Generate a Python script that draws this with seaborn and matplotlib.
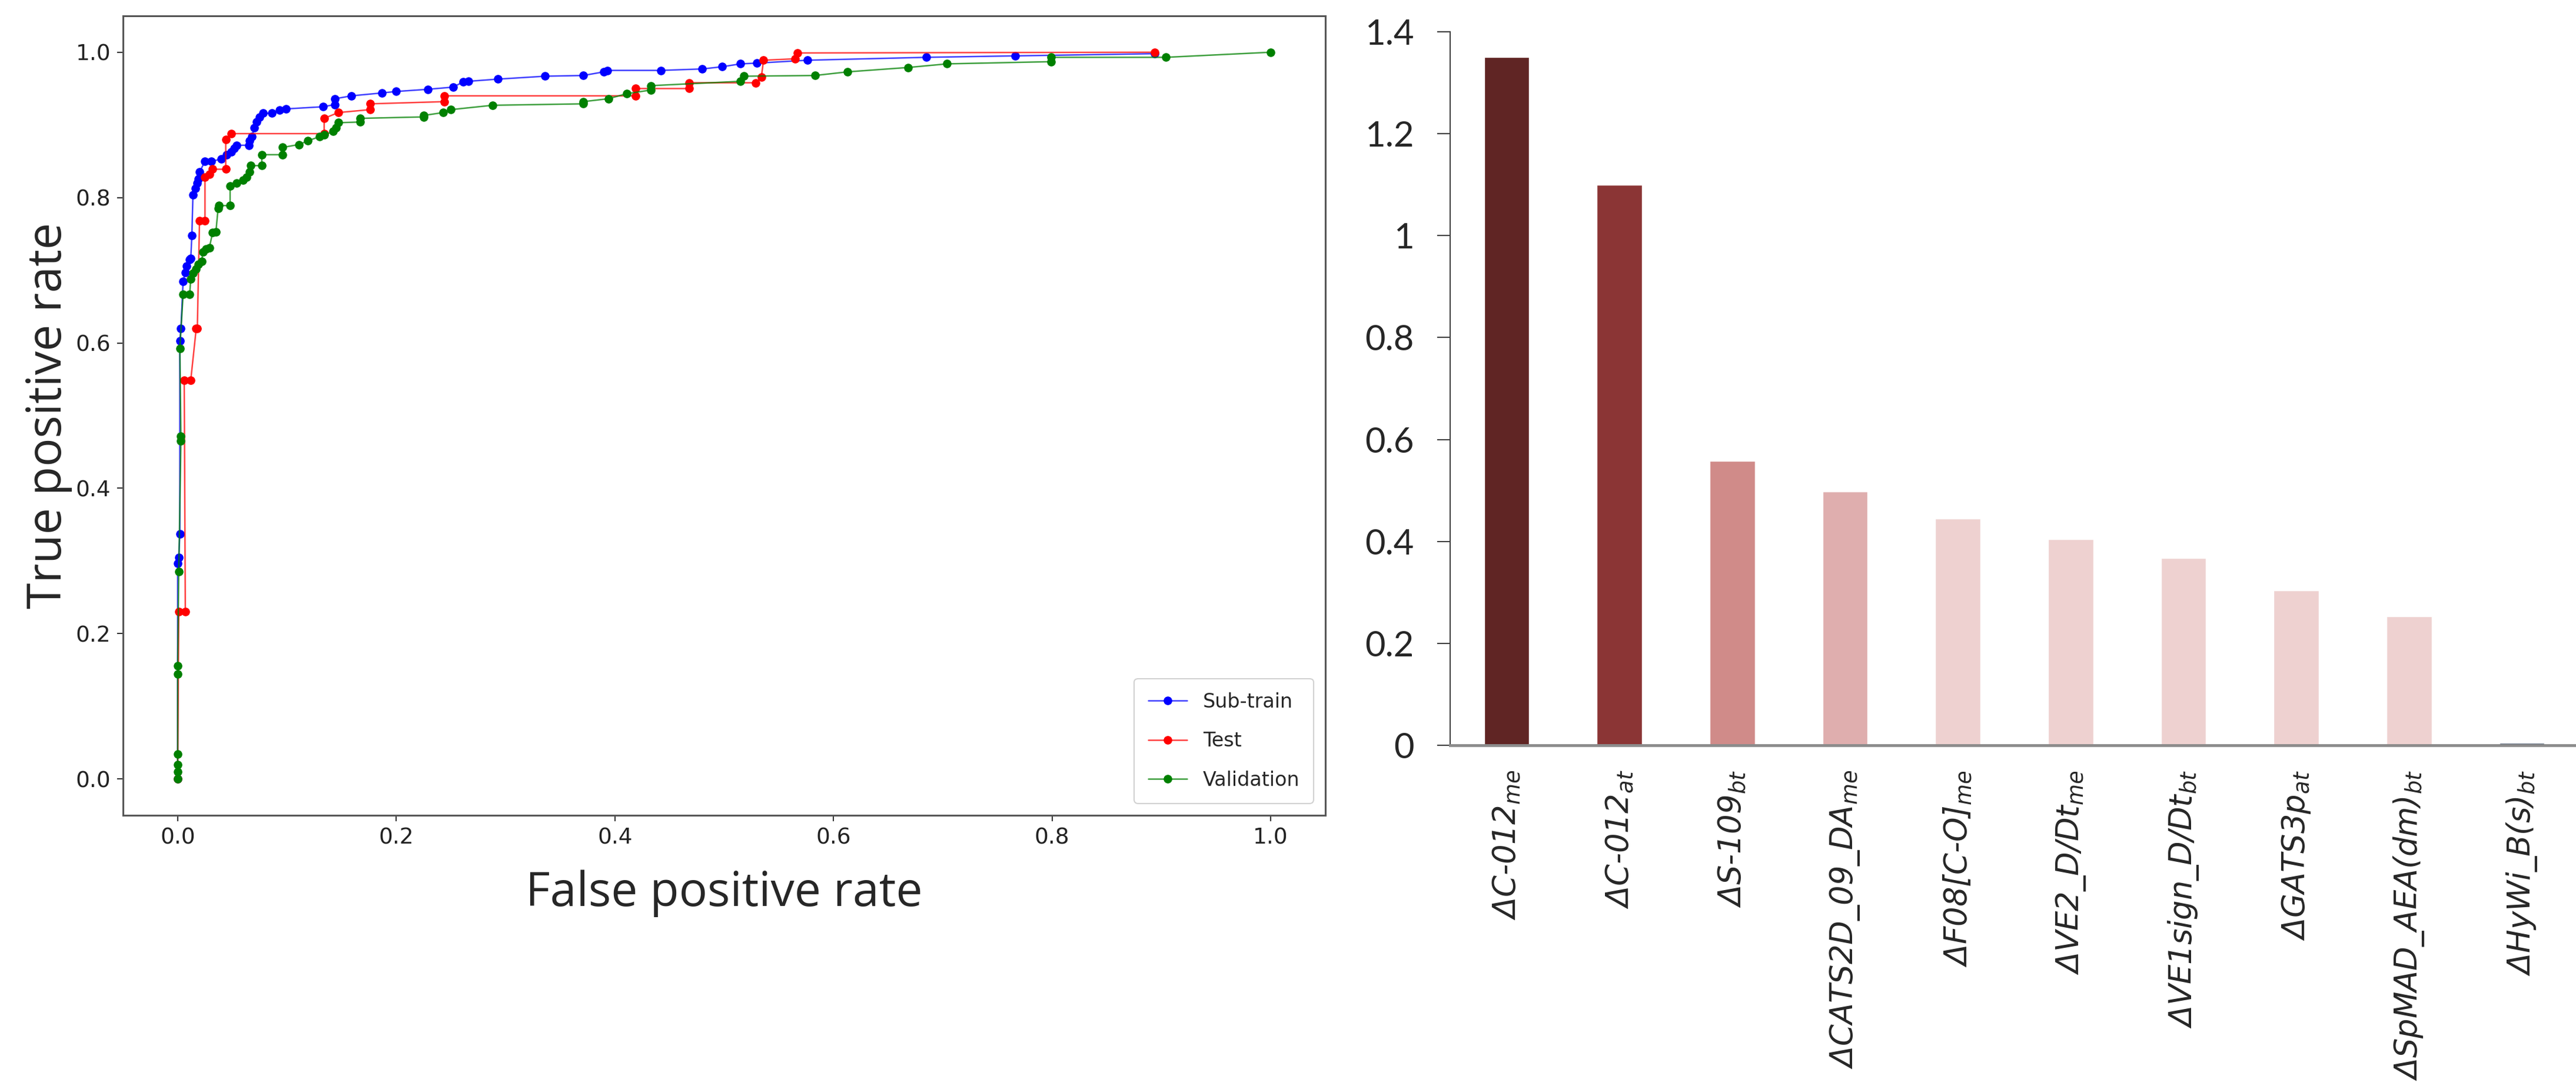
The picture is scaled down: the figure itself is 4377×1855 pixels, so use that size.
import numpy as np
import pandas as pd
import matplotlib
matplotlib.use("Agg")
import matplotlib.pyplot as plt
from matplotlib.colors import to_rgb
import seaborn as sns

# ---------------- ROC data ----------------
sub_fpr = [0.000, 0.000, 0.001, 0.002, 0.002, 0.003, 0.005, 0.007, 0.008, 0.011, 0.012,
           0.013, 0.014, 0.016, 0.018, 0.019, 0.020, 0.025, 0.031, 0.040, 0.045, 0.049,
           0.052, 0.054, 0.065, 0.066, 0.068, 0.070, 0.072, 0.075, 0.078, 0.086, 0.093,
           0.099, 0.133, 0.144, 0.144, 0.159, 0.187, 0.200, 0.229, 0.252, 0.261, 0.266,
           0.293, 0.336, 0.371, 0.390, 0.393, 0.442, 0.480, 0.498, 0.515, 0.530, 0.576,
           0.685, 0.766, 0.894]
sub_tpr = [0.000, 0.297, 0.305, 0.337, 0.603, 0.620, 0.685, 0.697, 0.706, 0.715, 0.716,
           0.748, 0.804, 0.813, 0.820, 0.826, 0.835, 0.850, 0.850, 0.853, 0.859, 0.863,
           0.868, 0.872, 0.872, 0.878, 0.884, 0.896, 0.904, 0.911, 0.916, 0.916, 0.920,
           0.922, 0.925, 0.928, 0.936, 0.940, 0.944, 0.946, 0.949, 0.952, 0.959, 0.960,
           0.963, 0.967, 0.968, 0.973, 0.975, 0.975, 0.977, 0.980, 0.984, 0.985, 0.989,
           0.993, 0.995, 0.998]

test_fpr = [0.000, 0.001, 0.007, 0.006, 0.012, 0.017, 0.018, 0.020, 0.025, 0.025, 0.029,
            0.032, 0.044, 0.044, 0.049, 0.134, 0.134, 0.147, 0.176, 0.176, 0.244, 0.244,
            0.419, 0.419, 0.468, 0.468, 0.529, 0.534, 0.536, 0.565, 0.567, 0.894]
test_tpr = [0.000, 0.230, 0.230, 0.549, 0.549, 0.620, 0.620, 0.768, 0.768, 0.828, 0.832,
            0.839, 0.839, 0.880, 0.888, 0.888, 0.909, 0.917, 0.921, 0.929, 0.932, 0.940,
            0.940, 0.950, 0.950, 0.958, 0.958, 0.966, 0.989, 0.991, 0.999, 1.000]

val_fpr = [0.000, 0.000, 0.000, 0.000, 0.000, 0.000, 0.001, 0.003, 0.003, 0.002, 0.005,
           0.011, 0.012, 0.014, 0.017, 0.019, 0.022, 0.023, 0.026, 0.029, 0.032, 0.035,
           0.037, 0.038, 0.048, 0.048, 0.054, 0.060, 0.063, 0.066, 0.067, 0.077, 0.077,
           0.096, 0.096, 0.111, 0.119, 0.130, 0.134, 0.142, 0.145, 0.147, 0.167, 0.167,
           0.225, 0.225, 0.243, 0.250, 0.288, 0.371, 0.371, 0.394, 0.411, 0.433, 0.433,
           0.515, 0.518, 0.583, 0.613, 0.668, 0.704, 0.799, 0.799, 0.904, 1.000]
val_tpr = [0.000, 0.010, 0.020, 0.034, 0.144, 0.156, 0.285, 0.465, 0.472, 0.592, 0.667,
           0.667, 0.688, 0.696, 0.702, 0.708, 0.712, 0.725, 0.729, 0.731, 0.752, 0.753,
           0.785, 0.789, 0.789, 0.816, 0.820, 0.824, 0.828, 0.835, 0.844, 0.844, 0.859,
           0.859, 0.869, 0.873, 0.878, 0.884, 0.886, 0.891, 0.896, 0.903, 0.904, 0.909,
           0.911, 0.913, 0.917, 0.921, 0.927, 0.929, 0.932, 0.936, 0.943, 0.948, 0.954,
           0.960, 0.967, 0.968, 0.973, 0.979, 0.984, 0.987, 0.993, 0.993, 1.000]

series_names = ["Sub-train", "Test", "Validation"]
series_colors = ["#0000ff", "#ff0000", "#008000"]
roc_ticks = [0.0, 0.2, 0.4, 0.6, 0.8, 1.0]

# ---------------- Descriptor importance data ----------------
descriptors = ["C-012_me", "C-012_at", "S-109_bt", "CATS2D_09_DA_me", "F08[C-O]_me",
               "VE2_D/Dt_me", "VE1sign_D/Dt_bt", "GATS3p_at", "SpMAD_AEA(dm)_bt",
               "HyWi_B(s)_bt"]
descriptor_labels = ["ΔC-012$_{me}$", "ΔC-012$_{at}$", "ΔS-109$_{bt}$",
                     "ΔCATS2D_09_DA$_{me}$", "ΔF08[C-O]$_{me}$", "ΔVE2_D/Dt$_{me}$",
                     "ΔVE1sign_D/Dt$_{bt}$", "ΔGATS3p$_{at}$", "ΔSpMAD_AEA(dm)$_{bt}$",
                     "ΔHyWi_B(s)$_{bt}$"]
importance = [1.35, 1.10, 0.558, 0.498, 0.445, 0.404, 0.367, 0.304, 0.253, 0.005]
bar_colors = ["#602524", "#8b3535", "#d08b89", "#dfaeae", "#eed1d0", "#eed1d0",
              "#eed1d0", "#eed1d0", "#eed1d0", "#44546a"]
imp_ticks = [0, 0.2, 0.4, 0.6, 0.8, 1.0, 1.2, 1.4]
imp_tick_labels = ["0", "0.2", "0.4", "0.6", "0.8", "1", "1.2", "1.4"]

# ---------------- Figure ----------------
sns.set_theme(style="white")
plt.rcParams["font.family"] = ["DejaVu Sans"]
plt.rcParams["mathtext.fontset"] = "dejavusans"

W, H = 4377, 1855
fig = plt.figure(figsize=(W / 100, H / 100), dpi=100)
fig.patch.set_facecolor("white")

ax1 = fig.add_axes([209 / W, 1 - 1385 / H, (2252 - 209) / W, (1385 - 27) / H])
ax2 = fig.add_axes([2464 / W, 1 - 1266 / H, (W - 2464) / W, (1266 - 54) / H])

# ROC curves
frames = []
for name, fx, ty in zip(series_names, [sub_fpr, test_fpr, val_fpr], [sub_tpr, test_tpr, val_tpr]):
    frames.append(pd.DataFrame({"fpr": fx, "tpr": ty, "set": name}))
roc = pd.concat(frames, ignore_index=True)

sns.lineplot(data=roc, x="fpr", y="tpr", hue="set", hue_order=series_names,
             palette=series_colors, sort=False, estimator=None, marker="o",
             markersize=10.5, markeredgewidth=0, linewidth=1.8, legend=False, ax=ax1)
for line, c in zip(ax1.lines, series_colors):
    r, g, b = to_rgb(c)
    line.set_color((r, g, b, 0.75))
    line.set_markerfacecolor(c)
    line.set_markeredgecolor(c)

ax1.set_xlim(-0.05, 1.05)
ax1.set_ylim(-0.05, 1.05)
ax1.set_xticks(roc_ticks)
ax1.set_yticks(roc_ticks)
ax1.set_xticklabels([f"{t:.1f}" for t in roc_ticks])
ax1.set_yticklabels([f"{t:.1f}" for t in roc_ticks])
ax1.tick_params(axis="both", which="major", labelsize=27, length=7, width=1.5,
                color="#333333", labelcolor="#222222", direction="out", pad=8,
                bottom=True, left=True)
for sp in ax1.spines.values():
    sp.set_color("#555555")
    sp.set_linewidth(2.2)
ax1.set_xlabel("False positive rate", fontsize=58, family="Open Sans", labelpad=26)
ax1.set_ylabel("True positive rate", fontsize=58, family="Open Sans", labelpad=4)
leg = ax1.legend(handles=ax1.lines[:3], labels=series_names, loc="lower right",
                 fontsize=24, frameon=True, fancybox=True, framealpha=0.9,
                 edgecolor="#cccccc", borderaxespad=0.6, labelspacing=1.0,
                 handlelength=2.0, handletextpad=0.8, borderpad=0.7)
leg.get_frame().set_linewidth(1.5)

# Importance bars
imp = pd.DataFrame({"descriptor": descriptors, "importance": importance})
sns.barplot(data=imp, x="descriptor", y="importance", hue="descriptor",
            hue_order=descriptors, order=descriptors, palette=bar_colors,
            saturation=1, width=0.4, legend=False, ax=ax2)
ax2.set_xlim(-0.5, 9.48)
ax2.set_ylim(0, 1.4)
ax2.set_yticks(imp_ticks)
ax2.set_yticklabels(imp_tick_labels, family="Lato", fontsize=43)
ax2.set_xticks(range(len(descriptors)))
ax2.set_xticklabels(descriptor_labels, rotation=90, fontstyle="italic", fontsize=38,
                    ha="center", va="top")
ax2.tick_params(axis="x", length=0, pad=30)
ax2.tick_params(axis="y", length=16, width=1.5, color="#404040", pad=28, left=True)
ax2.set_xlabel("")
ax2.set_ylabel("")
for side in ["top", "right"]:
    ax2.spines[side].set_visible(False)
ax2.spines["left"].set_color("#404040")
ax2.spines["left"].set_linewidth(1.5)
ax2.spines["bottom"].set_color("#8c8c8c")
ax2.spines["bottom"].set_linewidth(3.5)
ax2.patch.set_alpha(0)

fig.savefig("out.png", dpi=100, facecolor="white")
